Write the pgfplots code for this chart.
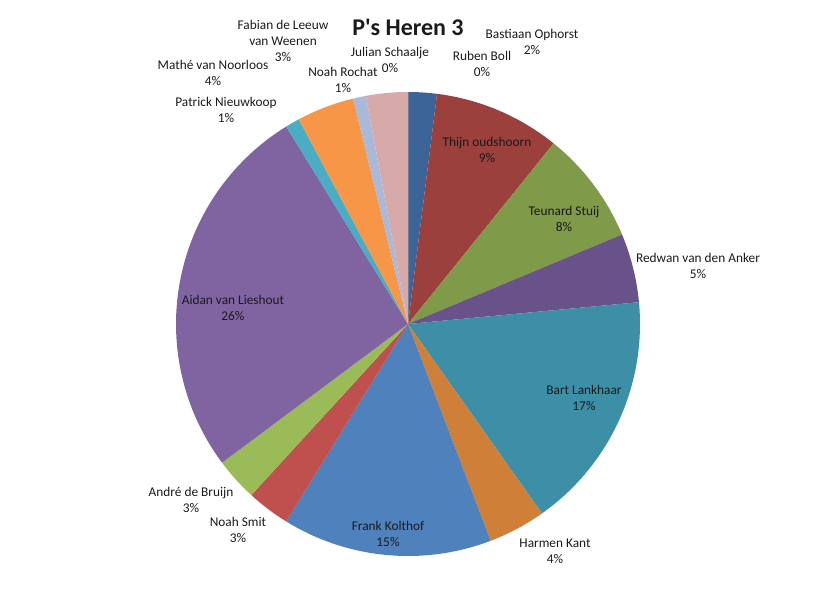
\documentclass[border=0pt]{standalone}
\usepackage{pgfplots}
\usepackage{pgfplotstable}
\pgfplotsset{compat=1.18}
\usepackage{fontspec}
\setmainfont{Carlito}
\newfontfamily\titlefont[Ligatures=TeXOff]{Carlito}
\definecolor{cA}{HTML}{3C6496}
\definecolor{cB}{HTML}{9C403D}
\definecolor{cC}{HTML}{7F9A48}
\definecolor{cD}{HTML}{69518A}
\definecolor{cE}{HTML}{3C8FA6}
\definecolor{cF}{HTML}{D07F39}
\definecolor{cG}{HTML}{4F81BD}
\definecolor{cH}{HTML}{C0504D}
\definecolor{cI}{HTML}{9BBB59}
\definecolor{cJ}{HTML}{8064A2}
\definecolor{cK}{HTML}{4BACC6}
\definecolor{cL}{HTML}{F79646}
\definecolor{cM}{HTML}{AAB9D9}
\definecolor{cN}{HTML}{D7A9A8}
\definecolor{cO}{HTML}{C3D69B}
\definecolor{cP}{HTML}{B3A2C7}
\definecolor{txt}{HTML}{1A1A1A}
\newcommand\lbl{\fontsize{13.33bp}{16bp}\selectfont}
\newcommand\pieslice[3]{\fill[#3] (axis cs:408,324) -- ++({90-3.6*#1}:232bp) arc[start angle={90-3.6*#1}, end angle={90-3.6*#2}, radius=232bp] -- cycle;}
\pgfplotstableread[col sep=comma]{
name,value,color
Bastiaan Ophorst,2.0,cA
Thijn oudshoorn,8.8,cB
Teunard Stuij,7.9,cC
Redwan van den Anker,4.8,cD
Bart Lankhaar,16.7,cE
Harmen Kant,4.0,cF
Frank Kolthof,14.6,cG
Noah Smit,3.0,cH
André de Bruijn,3.0,cI
Aidan van Lieshout,26.4,cJ
Patrick Nieuwkoop,1.0,cK
Mathé van Noorloos,4.0,cL
Noah Rochat,0.9,cM
Fabian de Leeuw van Weenen,2.9,cN
Julian Schaalje,0.0,cO
Ruben Boll,0.0,cP
}\piedata
\begin{document}
\begin{tikzpicture}
\pgfplotstablegetrowsof{\piedata}
\pgfmathtruncatemacro\nrows{\pgfplotsretval-1}
\gdef\allslices{}
\gdef\cum{0}
\foreach \i in {0,...,\nrows}{%
  \pgfplotstablegetelem{\i}{value}\of\piedata \let\sv\pgfplotsretval
  \pgfplotstablegetelem{\i}{color}\of\piedata \let\sc\pgfplotsretval
  \pgfmathsetmacro\new{\cum+\sv}%
  \xdef\allslices{\unexpanded\expandafter{\allslices}\noexpand\pieslice{\cum}{\new}{\sc}}%
  \xdef\cum{\new}%
}
\begin{axis}[width=817bp,height=608bp,scale only axis,
  xmin=0,xmax=817,ymin=0,ymax=608,y dir=reverse,
  hide axis,clip=false]
\path (rel axis cs:0,0) rectangle (rel axis cs:1,1);
\allslices
\begin{scope}[every node/.style={align=center,inner sep=0pt,font=\lbl,text=txt}]
\node at (axis cs:408,27) {\titlefont\fontsize{24bp}{28bp}\selectfont\bfseries P's Heren 3};
\node at (axis cs:532,42) {Bastiaan Ophorst\\2\%};
\node at (axis cs:482,64) {Ruben Boll\\0\%};
\node at (axis cs:390,60) {Julian Schaalje\\0\%};
\node at (axis cs:343,80) {Noah Rochat\\1\%};
\node at (axis cs:283,41) {Fabian de Leeuw\\van Weenen\\3\%};
\node at (axis cs:213,73) {Mathé van Noorloos\\4\%};
\node at (axis cs:226,110) {Patrick Nieuwkoop\\1\%};
\node at (axis cs:487,150) {Thijn oudshoorn\\9\%};
\node at (axis cs:564,219) {Teunard Stuij\\8\%};
\node at (axis cs:698,266) {Redwan van den Anker\\5\%};
\node at (axis cs:584,398) {Bart Lankhaar\\17\%};
\node at (axis cs:233,308) {Aidan van Lieshout\\26\%};
\node at (axis cs:191,500) {André de Bruijn\\3\%};
\node at (axis cs:238,530) {Noah Smit\\3\%};
\node at (axis cs:388,534) {Frank Kolthof\\15\%};
\node at (axis cs:555,551) {Harmen Kant\\4\%};
\end{scope}
\end{axis}
\end{tikzpicture}
\end{document}
